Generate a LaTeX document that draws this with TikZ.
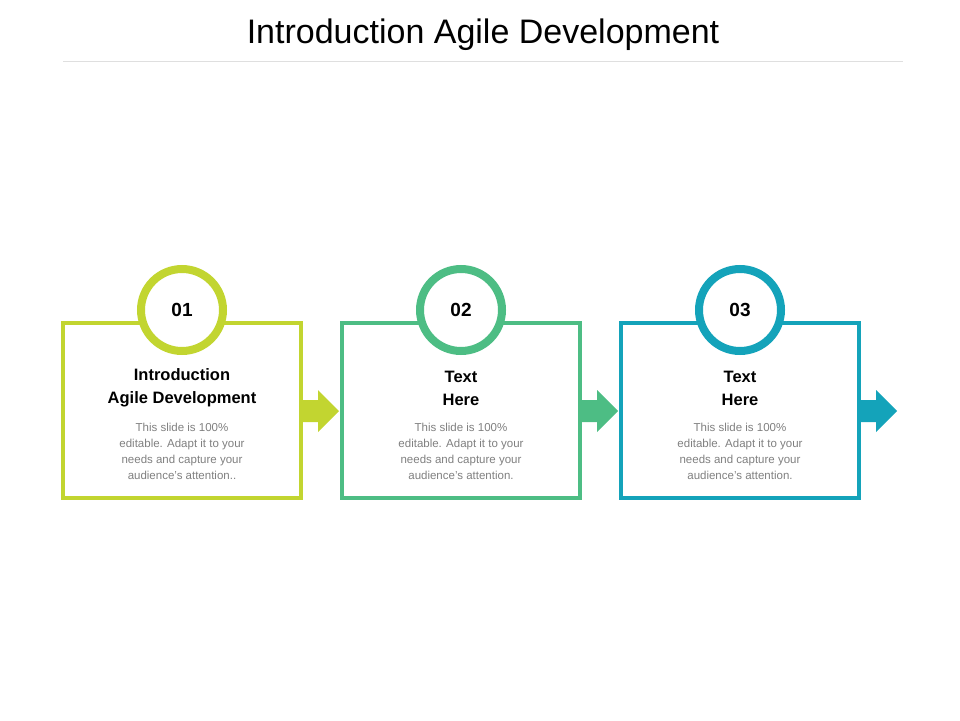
\documentclass[tikz,border=0pt]{standalone}
\usepackage{fontspec}
\setmainfont{Liberation Sans}
\definecolor{cA}{HTML}{C2D530}
\definecolor{cB}{HTML}{4DBD84}
\definecolor{cC}{HTML}{14A3BA}
\definecolor{bodyg}{HTML}{7F7F7F}
\begin{document}
\begin{tikzpicture}[x=1pt,y=-1pt,
  boxst/.style={draw=#1,line width=3.5pt},
  circst/.style={circle,draw=#1,line width=8pt,fill=white,minimum size=82pt,font=\bfseries\fontsize{19}{22}\selectfont},
  arrst/.style={fill=#1},
  headst/.style={align=center,font=\bfseries\fontsize{16.5}{23}\selectfont},
  bodyst/.style={align=center,text=bodyg,font=\fontsize{11.5}{16}\selectfont}]
\useasboundingbox (0,0) rectangle (960,720);
\node (title) at (483,35) {\fontsize{34}{40}\selectfont Introduction Agile Development};
\draw[gray!25,line width=0.8pt] (63,61) coordinate (l1) -- (903,61) coordinate (l2);
\foreach \i/\x/\c/\h/\b in {1/63/cA/{Introduction\\Agile Development}/{This slide is 100\%\\editable. Adapt it to your\\needs and capture your\\audience's attention..},
  2/342/cB/{Text\\Here}/{This slide is 100\%\\editable. Adapt it to your\\needs and capture your\\audience's attention.},
  3/621/cC/{Text\\Here}/{This slide is 100\%\\editable. Adapt it to your\\needs and capture your\\audience's attention.}}{
  \draw[boxst=\c] (\x,323) rectangle ++(238,175);
  \node[circst=\c] (c\i) at (\x+119,310) {0\i};
  \node[headst] (h\i) at (\x+119,388) {\h};
  \node[bodyst] (b\i) at (\x+119,451) {\b};
  \fill[arrst=\c] (\x+240,400) -- (\x+255,400) -- (\x+255,390) -- (\x+276,411) -- (\x+255,432) -- (\x+255,422) -- (\x+240,422) -- cycle;
}
\end{tikzpicture}
\end{document}
